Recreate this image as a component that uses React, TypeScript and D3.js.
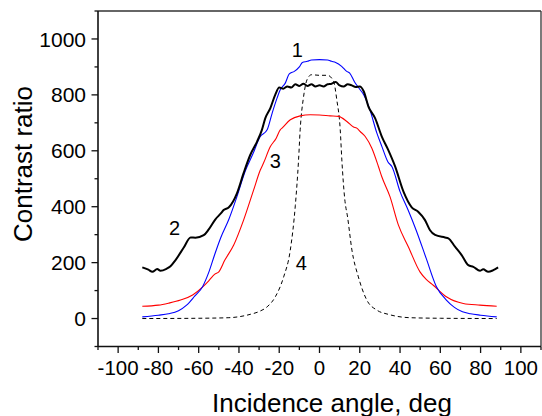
import React from "react";
import * as d3 from "d3";

// Curve 1 (blue)
const blueAngle = [-88, -80, -75, -70, -66, -62, -58, -55, -52, -49, -45, -41, -37, -33, -29.5, -26, -23.5, -21, -19.5, -17, -15, -12.5, -10, -8.5, -6, -4, 0, 4, 6, 8, 11, 13.5, 15, 17.5, 20, 22, 25, 28.5, 31, 34, 36, 40, 44, 48, 53, 58, 63, 67, 71, 75, 80, 88];
const blueValue = [6, 12, 17, 28, 48, 80, 115, 165, 230, 290, 355, 436, 525, 590, 650, 675, 735, 790, 818, 842, 875, 884, 900, 916, 920, 925, 926, 925, 920, 916, 902, 884, 878, 845, 820, 800, 747, 663, 615, 560, 543, 454, 388, 316, 215, 115, 66, 40, 24, 17, 12, 6];

// Curve 2 (black, thick)
const blackAngle = [-88, -85, -83, -80.6, -79, -76, -74, -71.5, -67.4, -64, -61.6, -57.5, -55, -51.7, -49, -47.6, -45, -41, -37.7, -34.4, -31, -28.6, -26.9, -24.4, -22, -20, -18, -16, -14, -12, -10, -8, -6, -4, -2, 0, 2, 4, 6, 8, 10, 12, 14, 16, 18, 20, 22, 24.3, 27.6, 31, 34, 37.5, 41.7, 45.8, 49, 52.4, 54.9, 57.4, 62.3, 64, 67.3, 70.6, 73.9, 76.4, 79.7, 81.3, 83.8, 86.3, 88.7];
const blackValue = [183, 175, 167, 177, 171, 178, 187, 209, 254, 290, 289, 298, 319, 355, 376, 388, 398, 448, 520, 585, 633, 675, 717, 753, 800, 826, 822, 830, 826, 838, 832, 840, 832, 838, 830, 834, 830, 838, 840, 846, 834, 830, 838, 834, 828, 830, 812, 758, 717, 650, 605, 545, 454, 398, 382, 352, 316, 299, 290, 287, 257, 227, 191, 185, 171, 176, 167, 173, 183];

// Curve 3 (red)
const redAngle = [-88, -80, -75, -69, -63, -58, -55, -52, -50, -47, -42.6, -37.7, -32.7, -29.4, -27.8, -24.4, -21.5, -19.5, -18.6, -14.5, -9.6, -4.6, 0, 5.3, 9.4, 13.6, 16.9, 18.5, 20.2, 22.7, 26, 29.3, 30.9, 35, 39.2, 44.1, 49.9, 53, 56.5, 63.2, 71.4, 79.7, 88];
const redValue = [44, 48, 55, 66, 84, 113, 135, 159, 167, 209, 263, 352, 460, 531, 556, 615, 645, 675, 681, 711, 725, 729, 728, 725, 723, 705, 685, 681, 669, 651, 609, 543, 508, 436, 334, 257, 167, 140, 119, 77, 54, 48, 44];

// Curve 4 (dashed)
const dashAngle = [-88, -60, -45, -34.4, -30, -26, -22, -17.8, -14.5, -12, -10.4, -9.6, -7.9, -6.2, -4, 0, 4, 7, 8.6, 10.3, 11.1, 12.5, 14, 16.1, 19.3, 23.5, 28.5, 34.2, 45, 60, 88];
const dashValue = [0, 1, 3, 15, 25, 42, 77, 149, 245, 405, 567, 675, 794, 854, 872, 870, 870, 848, 782, 675, 567, 430, 360, 245, 149, 66, 30, 15, 3, 1, 0];

const xTicks = [-100, -80, -60, -40, -20, 0, 20, 40, 60, 80, 100];
const yTicks = [0, 200, 400, 600, 800, 1000];

const labels = [
  { text: "1", angle: -11, value: 935 },
  { text: "2", angle: -72, value: 300 },
  { text: "3", angle: -22, value: 540 },
  { text: "4", angle: -9, value: 175 },
];

export default function App() {
  const left = 98, right = 541, top = 11, bottom = 346.5;
  const x = d3.scaleLinear().domain([-110, 110]).range([left, right]);
  const y = d3.scaleLinear().domain([-100, 1100]).range([bottom, top]);
  const font = "'Liberation Sans', Arial, sans-serif";

  const mk = (a: number[], v: number[]) =>
    d3.line<number>().x((_, i) => x(a[i])).y((_, i) => y(v[i])).curve(d3.curveMonotoneX)(v.map((d) => d)) || "";

  const xMinor = d3.range(-110, 111, 10);
  const yMinor = d3.range(-100, 1101, 100);

  return (
    <svg width={542} height={416} style={{ position: "absolute", left: 0, top: 0, background: "#fff" }} fontFamily={font}>
      <rect x={0} y={0} width={542} height={416} fill="#fff" />
      {/* curves */}
      <path d={mk(dashAngle, dashValue)} fill="none" stroke="#000" strokeWidth={1} strokeDasharray="4,3" />
      <path d={mk(redAngle, redValue)} fill="none" stroke="#ff0000" strokeWidth={1.1} />
      <path d={mk(blueAngle, blueValue)} fill="none" stroke="#0000ff" strokeWidth={1.1} />
      <path d={mk(blackAngle, blackValue)} fill="none" stroke="#000" strokeWidth={2} strokeLinejoin="round" />

      {/* frame */}
      <line x1={left} x2={right} y1={top} y2={top} stroke="#333" strokeWidth={1.3} />
      <line x1={right} x2={right} y1={top} y2={bottom} stroke="#333" strokeWidth={1.3} />
      <line x1={left} x2={left} y1={top} y2={bottom} stroke="#111" strokeWidth={1.6} />
      <line x1={left} x2={right} y1={bottom} y2={bottom} stroke="#111" strokeWidth={1.6} />

      {/* y ticks */}
      {yMinor.map((t) => {
        const major = t % 200 === 0;
        return <line key={"ym" + t} x1={left} x2={left - (major ? 6.5 : 3.5)} y1={y(t)} y2={y(t)} stroke="#111" strokeWidth={1.3} />;
      })}
      {yTicks.map((t) => (
        <text key={"yt" + t} x={86} y={y(t)} dy="0.36em" textAnchor="end" fontSize={21} fill="#000">{t}</text>
      ))}

      {/* x ticks */}
      {xMinor.map((t) => {
        const major = t % 20 === 0;
        return <line key={"xm" + t} x1={x(t)} x2={x(t)} y1={bottom} y2={bottom + (major ? 6.5 : 3.5)} stroke="#111" strokeWidth={1.3} />;
      })}
      {xTicks.map((t) => (
        <text key={"xt" + t} x={x(t)} y={374.5} textAnchor="middle" fontSize={20.5} fill="#000">{t}</text>
      ))}

      {/* axis titles */}
      <text x={332} y={411.5} textAnchor="middle" fontSize={26} fill="#000">Incidence angle, deg</text>
      <text transform="translate(32,164) rotate(-90)" textAnchor="middle" fontSize={26} fill="#000">Contrast ratio</text>

      {/* curve labels */}
      {labels.map((l) => (
        <text key={l.text} x={x(l.angle)} y={y(l.value)} textAnchor="middle" fontSize={20} fill="#000">{l.text}</text>
      ))}
    </svg>
  );
}
